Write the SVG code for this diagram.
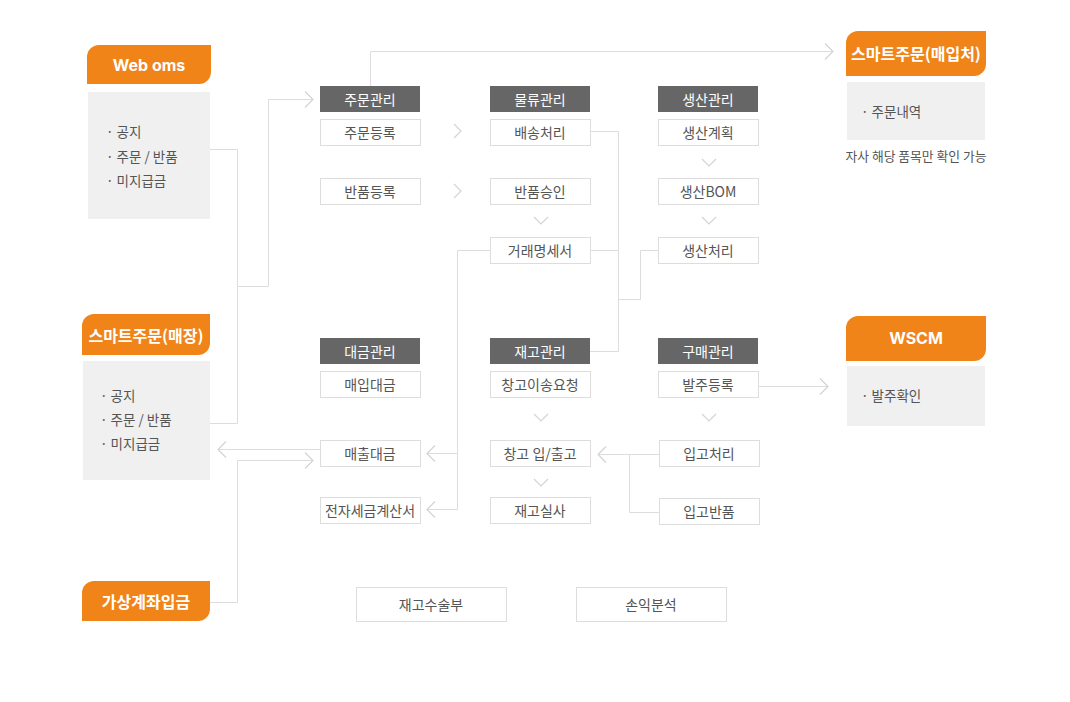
<svg xmlns="http://www.w3.org/2000/svg" width="1070" height="702" viewBox="0 0 1070 702">
<style>
.tab{fill:#F08418}
.tabt{font-family:"Noto Sans CJK KR","Noto Sans",sans-serif;font-weight:700;font-size:16px;fill:#fff;text-anchor:middle;dominant-baseline:central}
.lat{font-family:Inter,"Noto Sans",sans-serif}
.gbox{fill:#F0F0F0}
.bul{font-family:"Noto Sans CJK KR","Noto Sans",sans-serif;font-size:13.5px;fill:#555;dominant-baseline:central}
.cap{font-family:"Noto Sans CJK KR","Noto Sans",sans-serif;font-size:12.8px;fill:#555;dominant-baseline:central;text-anchor:middle}
.hdr{fill:#666}
.hdrt{font-family:"Noto Sans CJK KR","Noto Sans",sans-serif;font-size:14px;fill:#fff;text-anchor:middle;dominant-baseline:central}
.box{fill:#fff;stroke:#DDD;stroke-width:1}
.boxt{font-family:"Noto Sans CJK KR","Noto Sans",sans-serif;font-size:14px;fill:#555;text-anchor:middle;dominant-baseline:central}
.ln{fill:none;stroke:#DDD;stroke-width:1}
.chev{fill:none;stroke:#D4D4D4;stroke-width:1.2}
</style>
<defs>
<marker id="ar" markerUnits="userSpaceOnUse" markerWidth="20" markerHeight="20" viewBox="-10 -10 20 20" refX="0" refY="0" orient="auto">
<path d="M-8,-8 L0,0 L-8,8" fill="none" stroke="#D4D4D4" stroke-width="1.2"/>
</marker>
</defs>
<rect width="1070" height="702" fill="#fff"/>

<g id="connectors">
<path class="ln" d="M210,149.5 H237.5 V423.5 H210"/>
<path class="ln" d="M237.5,286.5 H268.5 V99.5 H313" marker-end="url(#ar)"/>
<path class="ln" d="M320,449.5 H218" marker-end="url(#ar)"/>
<path class="ln" d="M210,602.5 H237.5 V460.5 H313" marker-end="url(#ar)"/>
<path class="ln" d="M370.5,86 V51.5 H833" marker-end="url(#ar)"/>
<path class="ln" d="M590,131.5 H618.5 V351.5 H590"/>
<path class="ln" d="M590,250.5 H618.5"/>
<path class="ln" d="M658,250.5 H640.5 V299.5 H618.5"/>
<path class="ln" d="M490,250.5 H457.5 V509.5 H427" marker-end="url(#ar)"/>
<path class="ln" d="M457.5,453.5 H427" marker-end="url(#ar)"/>
<path class="ln" d="M758,386.5 H828" marker-end="url(#ar)"/>
<path class="ln" d="M659,454.5 H598" marker-end="url(#ar)"/>
<path class="ln" d="M629.5,454.5 V512.5 H659"/>
<path class="chev" d="M454,124 L461,131 L454,138"/>
<path class="chev" d="M454,184 L461,191 L454,198"/>
<path class="chev" d="M534,217 L541,224 L548,217"/>
<path class="chev" d="M702,159 L709,166 L716,159"/>
<path class="chev" d="M702,217 L709,224 L716,217"/>
<path class="chev" d="M534,414 L541,421 L548,414"/>
<path class="chev" d="M534,479 L541,486 L548,479"/>
<path class="chev" d="M702,414 L709,421 L716,414"/>
</g>

<g id="web-oms">
<path class="tab" d="M87,57 A12,12 0 0 1 99,45 H211 V72 A12,12 0 0 1 199,84 H87 Z"/>
<text class="tabt lat" x="149" y="65">Web oms</text>
<rect class="gbox" x="88" y="92" width="122" height="127"/>
<text class="bul" x="106" y="131">· 공지</text>
<text class="bul" x="106" y="156">· 주문 / 반품</text>
<text class="bul" x="106" y="180">· 미지급금</text>
</g>

<g id="smart-store">
<path class="tab" d="M82,326 A12,12 0 0 1 94,314 H210 V343 A12,12 0 0 1 198,355 H82 Z"/>
<text class="tabt" x="146" y="335">스마트주문(매장)</text>
<rect class="gbox" x="83" y="361" width="127" height="119"/>
<text class="bul" x="100" y="395">· 공지</text>
<text class="bul" x="100" y="419">· 주문 / 반품</text>
<text class="bul" x="100" y="443">· 미지급금</text>
</g>

<g id="virtual-account">
<path class="tab" d="M82,593 A12,12 0 0 1 94,581 H210 V609 A12,12 0 0 1 198,621 H82 Z"/>
<text class="tabt" x="146" y="601">가상계좌입금</text>
</g>

<g id="smart-supplier">
<path class="tab" d="M846,43 A12,12 0 0 1 858,31 H986 V64 A12,12 0 0 1 974,76 H846 Z"/>
<text class="tabt" x="916" y="53">스마트주문(매입처)</text>
<rect class="gbox" x="847" y="82" width="138" height="58"/>
<text class="bul" x="861" y="111">· 주문내역</text>
<text class="cap" x="916" y="155">자사 해당 품목만 확인 가능</text>
</g>

<g id="wscm">
<path class="tab" d="M846,328 A12,12 0 0 1 858,316 H986 V349 A12,12 0 0 1 974,361 H846 Z"/>
<text class="tabt lat" x="916" y="338">WSCM</text>
<rect class="gbox" x="847" y="366" width="138" height="60"/>
<text class="bul" x="861" y="395">· 발주확인</text>
</g>

<g id="order-mgmt">
<rect class="hdr" x="320" y="86" width="100" height="26"/>
<text class="hdrt" x="370" y="99">주문관리</text>
</g>
<g id="order-reg"><rect class="box" x="320.5" y="119.5" width="100" height="26"/><text class="boxt" x="370" y="132">주문등록</text></g>
<g id="return-reg"><rect class="box" x="320.5" y="178.5" width="100" height="26"/><text class="boxt" x="370" y="191">반품등록</text></g>

<g id="logistics-mgmt">
<rect class="hdr" x="490" y="86" width="100" height="26"/>
<text class="hdrt" x="540" y="99">물류관리</text>
</g>
<g id="delivery"><rect class="box" x="490.5" y="119.5" width="100" height="26"/><text class="boxt" x="540" y="132">배송처리</text></g>
<g id="return-approve"><rect class="box" x="490.5" y="178.5" width="100" height="26"/><text class="boxt" x="540" y="191">반품승인</text></g>
<g id="statement"><rect class="box" x="490.5" y="237.5" width="100" height="26"/><text class="boxt" x="540" y="250">거래명세서</text></g>

<g id="production-mgmt">
<rect class="hdr" x="658" y="86" width="100" height="26"/>
<text class="hdrt" x="708" y="99">생산관리</text>
</g>
<g id="prod-plan"><rect class="box" x="658.5" y="119.5" width="100" height="26"/><text class="boxt" x="708" y="132">생산계획</text></g>
<g id="prod-bom"><rect class="box" x="658.5" y="178.5" width="100" height="26"/><text class="boxt" x="708" y="191">생산BOM</text></g>
<g id="prod-proc"><rect class="box" x="658.5" y="237.5" width="100" height="26"/><text class="boxt" x="708" y="250">생산처리</text></g>

<g id="payment-mgmt">
<rect class="hdr" x="320" y="338" width="100" height="26"/>
<text class="hdrt" x="370" y="351">대금관리</text>
</g>
<g id="purchase-pay"><rect class="box" x="320.5" y="371.5" width="100" height="26"/><text class="boxt" x="370" y="384">매입대금</text></g>
<g id="sales-pay"><rect class="box" x="320.5" y="440.5" width="100" height="26"/><text class="boxt" x="370" y="453">매출대금</text></g>
<g id="tax-invoice"><rect class="box" x="320.5" y="497.5" width="100" height="26"/><text class="boxt" x="370" y="510">전자세금계산서</text></g>

<g id="inventory-mgmt">
<rect class="hdr" x="490" y="338" width="100" height="26"/>
<text class="hdrt" x="540" y="351">재고관리</text>
</g>
<g id="transfer-req"><rect class="box" x="490.5" y="371.5" width="100" height="26"/><text class="boxt" x="540" y="384">창고이송요청</text></g>
<g id="in-out"><rect class="box" x="490.5" y="440.5" width="100" height="26"/><text class="boxt" x="540" y="453">창고 입/출고</text></g>
<g id="stocktake"><rect class="box" x="490.5" y="497.5" width="100" height="26"/><text class="boxt" x="540" y="510">재고실사</text></g>

<g id="purchase-mgmt">
<rect class="hdr" x="658" y="338" width="100" height="26"/>
<text class="hdrt" x="708" y="351">구매관리</text>
</g>
<g id="po-reg"><rect class="box" x="658.5" y="371.5" width="100" height="26"/><text class="boxt" x="708" y="384">발주등록</text></g>
<g id="receiving"><rect class="box" x="659.5" y="440.5" width="100" height="26"/><text class="boxt" x="709" y="453">입고처리</text></g>
<g id="receiving-return"><rect class="box" x="659.5" y="498.5" width="100" height="26"/><text class="boxt" x="709" y="511">입고반품</text></g>

<g id="inventory-ledger"><rect class="box" x="356.5" y="587.5" width="150" height="34"/><text class="boxt" x="431" y="604">재고수술부</text></g>
<g id="pl-analysis"><rect class="box" x="576.5" y="587.5" width="150" height="34"/><text class="boxt" x="651" y="604">손익분석</text></g>
</svg>
